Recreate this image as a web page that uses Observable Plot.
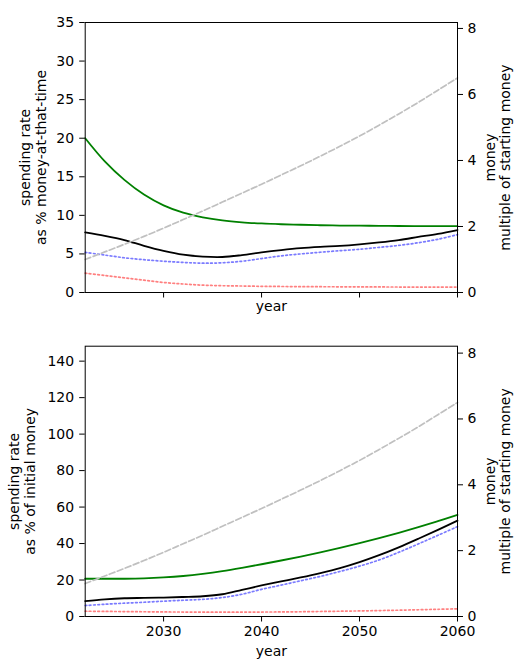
<!DOCTYPE html>
<html><head><meta charset="utf-8">
<script src="https://cdn.jsdelivr.net/npm/d3@7"></script>
<script src="https://cdn.jsdelivr.net/npm/@observablehq/plot@0.6"></script>
<style>body{margin:0;background:#fff;} #chart svg{display:block;}</style>
</head><body><div id="chart"></div>
<script>
const years = [2022,2024,2026,2028,2030,2032,2034,2036,2038,2040,2042,2044,2046,2048,2050,2052,2054,2056,2058,2060];
const money = [1.0,1.23,1.46,1.70,1.95,2.21,2.47,2.74,3.01,3.28,3.56,3.84,4.13,4.43,4.74,5.07,5.41,5.76,6.13,6.5];

// spending rate as % of money-at-that-time
const topGreen = [20.0,17.0,14.6,12.7,11.3,10.35,9.75,9.35,9.1,8.95,8.85,8.78,8.72,8.68,8.66,8.64,8.62,8.6,8.6,8.6];
const topBlack = [7.8,7.35,6.8,6.05,5.4,4.9,4.65,4.6,4.85,5.2,5.5,5.75,5.92,6.05,6.25,6.5,6.8,7.2,7.6,8.1];
const topBlue  = [5.2,4.85,4.5,4.25,4.05,3.9,3.8,3.85,4.05,4.4,4.75,5.0,5.22,5.42,5.6,5.85,6.1,6.45,6.9,7.5];
const topRed   = [2.5,2.2,1.9,1.6,1.3,1.1,0.95,0.88,0.84,0.8,0.78,0.76,0.75,0.74,0.73,0.72,0.71,0.7,0.7,0.7];

// spending rate as % of initial money
const botGreen = [20.7,20.7,20.7,20.9,21.4,22.2,23.4,24.9,26.7,28.65,30.7,32.85,35.15,37.6,40.2,42.95,45.9,49.0,52.3,55.7];
const botBlack = [8.4,9.4,10.0,10.2,10.4,10.7,11.1,12.2,14.6,17.0,19.2,21.4,23.8,26.5,29.8,33.6,37.9,42.6,47.5,52.6];
const botBlue  = [6.0,6.7,7.3,7.8,8.4,8.9,9.4,10.4,12.2,14.9,17.2,19.6,22.0,24.7,27.6,31.0,35.2,39.8,44.5,49.3];
const botRed   = [2.9,2.8,2.7,2.6,2.5,2.45,2.4,2.4,2.4,2.45,2.5,2.6,2.75,2.9,3.05,3.25,3.45,3.7,3.95,4.2];

const xTicks = [2030,2040,2050,2060];
const topLeftTicks = [0,5,10,15,20,25,30,35];
const botLeftTicks = [0,20,40,60,80,100,120,140];
const rightTicks = [0,2,4,6,8];

const topLeftLabel = "spending rate\nas % money-at-that-time";
const botLeftLabel = "spending rate\nas % of initial money";
const rightLabel = "money\nmultiple of starting money";
const xLabel = "year";

function panel(o) {
  const k = o.leftMax / o.rightMax;
  const rows = vals => years.map((y, i) => ({year: y, v: vals[i]}));
  const moneyRows = years.map((y, i) => ({year: y, v: money[i] * k}));
  const lineOpts = {x: "year", y: "v", curve: "catmull-rom", strokeWidth: 1.8};
  const dotOpts = {...lineOpts, strokeWidth: 1.7, strokeDasharray: "1.7,2.5"};
  return Plot.plot({
    width: 522, height: o.height,
    marginLeft: 84.7, marginRight: 65, marginTop: o.marginTop, marginBottom: o.marginBottom,
    x: {domain: [2022, 2060]},
    y: {domain: [0, o.leftMax]},
    style: {fontFamily: "DejaVu Sans", fontSize: "14px", color: "black", background: "white"},
    marks: [
      Plot.line(rows(o.red), {...dotOpts, stroke: "#ff8080"}),
      Plot.line(rows(o.blue), {...dotOpts, stroke: "#7b7bff"}),
      Plot.line(rows(o.black), {...lineOpts, stroke: "black"}),
      Plot.line(rows(o.green), {...lineOpts, stroke: "#008000"}),
      Plot.line(moneyRows, {...lineOpts, strokeWidth: 1.7, stroke: "#c0c0c0", strokeDasharray: "6,2.6"}),
      Plot.frame({stroke: "black", strokeWidth: 1}),
      Plot.axisX({ticks: xTicks, tickSize: 5.5, tickPadding: 4, label: null,
        tickFormat: o.showX ? (d => String(d)) : (() => "")}),
      Plot.axisY({anchor: "left", ticks: o.leftTicks, tickSize: 5.5, tickPadding: 5.5, label: null}),
      Plot.axisY({anchor: "right", ticks: rightTicks.map(t => t * k), tickSize: 5, tickPadding: 5, label: null,
        tickFormat: d => String(Math.round(d / k))}),
      Plot.text([o.leftLabel], {text: d => d, frameAnchor: "left", textAnchor: "middle", rotate: -90, dx: o.leftDx, lineHeight: 1.1}),
      Plot.text([rightLabel], {text: d => d, frameAnchor: "right", textAnchor: "middle", rotate: -90, dx: 40, lineHeight: 1.1}),
      Plot.text([xLabel], {text: d => d, frameAnchor: "bottom", dy: o.yearDy})
    ]
  });
}

const chart = document.getElementById("chart");
chart.append(panel({
  height: 322, marginTop: 22, marginBottom: 30, leftMax: 35, rightMax: 8.18,
  green: topGreen, black: topBlack, blue: topBlue, red: topRed,
  leftTicks: topLeftTicks, leftLabel: topLeftLabel, leftDx: -52, showX: false, yearDy: 18
}));
chart.append(panel({
  height: 345, marginTop: 23.7, marginBottom: 51, leftMax: 148.2, rightMax: 8.21,
  green: botGreen, black: botBlack, blue: botBlue, red: botRed,
  leftTicks: botLeftTicks, leftLabel: botLeftLabel, leftDx: -63, showX: true, yearDy: 39
}));
</script>
</body></html>
